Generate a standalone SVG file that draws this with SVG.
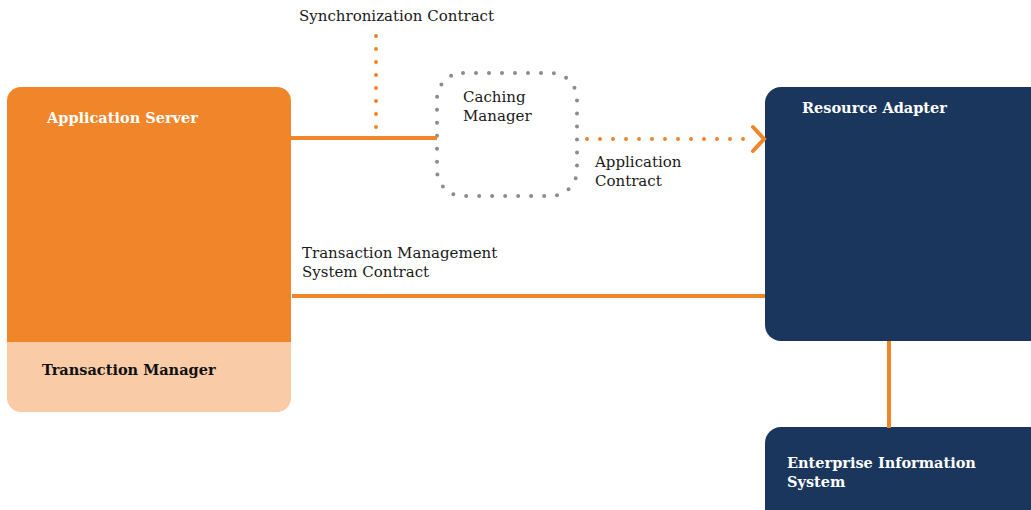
<svg xmlns="http://www.w3.org/2000/svg" width="1031" height="510" viewBox="0 0 1031 510">
<style>
.lbl{font-family:"DejaVu Serif","Liberation Serif",serif;font-size:15px;fill:#1a1a1a}
.ttl{font-family:"DejaVu Serif","Liberation Serif",serif;font-size:14.5px;font-weight:bold}
.w{fill:#ffffff}
.d{fill:#111111}
.solid{stroke:#F0852A;stroke-width:4;fill:none}
.dotO{stroke:#F0852A;stroke-width:4;stroke-linecap:round;stroke-dasharray:0 13;fill:none}
.dotG{stroke:#8c8c8c;stroke-width:4;stroke-linecap:round;stroke-dasharray:0 13;fill:none}
</style>
<rect width="1031" height="510" fill="#ffffff"/>
<g id="app-server">
<path d="M7,342 V101 A14,14 0 0 1 21,87 H277 A14,14 0 0 1 291,101 V342 Z" fill="#F0852A"/>
<path d="M7,342 H291 V398 A14,14 0 0 1 277,412 H21 A14,14 0 0 1 7,398 Z" fill="#F9CBA7"/>
<text class="ttl w" x="47" y="123">Application Server</text>
<text class="ttl d" x="42" y="375">Transaction Manager</text>
</g>
<g id="caching-manager">
<rect x="437" y="73" width="140" height="123" rx="26" class="dotG"/>
<text class="lbl" x="463" y="102">Caching</text>
<text class="lbl" x="463" y="121">Manager</text>
</g>
<g id="resource-adapter">
<rect x="765" y="87" width="290" height="254" rx="16" fill="#1A365D"/>
<text class="ttl w" x="802" y="113">Resource Adapter</text>
</g>
<g id="eis">
<rect x="765" y="427" width="290" height="110" rx="16" fill="#1A365D"/>
<text class="ttl w" x="787" y="468">Enterprise Information</text>
<text class="ttl w" x="787" y="487">System</text>
</g>
<g id="connectors">
<line class="solid" x1="291" y1="138" x2="437" y2="138"/>
<line class="dotO" x1="376" y1="36" x2="376" y2="130"/>
<line class="dotO" x1="587" y1="139" x2="748" y2="139"/>
<polyline class="solid" points="753,127 764,139 753,151" stroke-linecap="round" stroke-linejoin="miter"/>
<line class="solid" x1="292" y1="296" x2="765" y2="296"/>
<line class="solid" x1="889" y1="341" x2="889" y2="428"/>
</g>
<g id="labels">
<text class="lbl" x="299" y="21">Synchronization Contract</text>
<text class="lbl" x="595" y="167">Application</text>
<text class="lbl" x="595" y="186">Contract</text>
<text class="lbl" x="302" y="258">Transaction Management</text>
<text class="lbl" x="302" y="277">System Contract</text>
</g>
</svg>
